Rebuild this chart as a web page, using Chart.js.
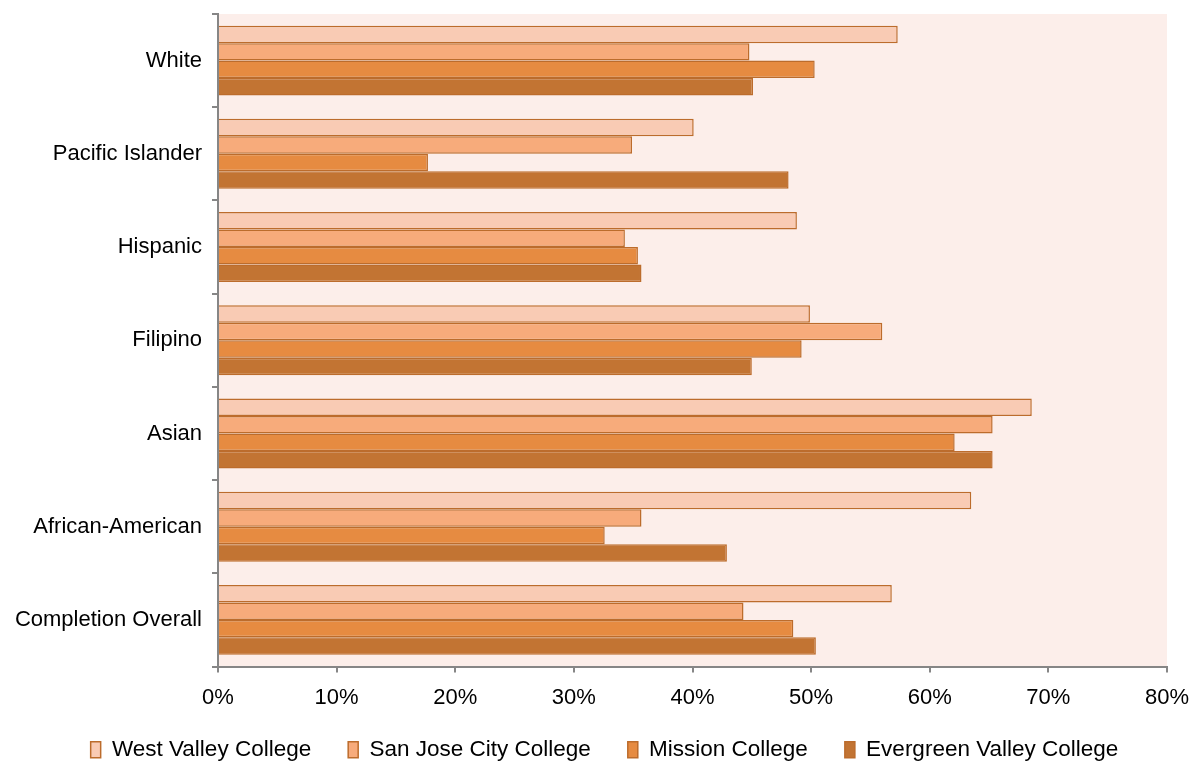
<!DOCTYPE html>
<html>
<head>
<meta charset="utf-8">
<script src="https://cdn.jsdelivr.net/npm/chart.js@4"></script>
<style>
  html, body { margin: 0; padding: 0; background: #ffffff; }
  #wrap { width: 1194px; height: 761px; }
</style>
</head>
<body>
<div id="wrap"><canvas id="chart"></canvas></div>
<script>
const groups = ['White', 'Pacific Islander', 'Hispanic', 'Filipino', 'Asian', 'African-American', 'Completion Overall']
const colleges = ['West Valley College', 'San Jose City College', 'Mission College', 'Evergreen Valley College']

// completion rates in percent, one list per college, same order as groups
const westValley = [57.3, 40.1, 48.8, 49.9, 68.6, 63.5, 56.8]
const sanJose = [44.8, 34.9, 34.3, 56.0, 65.3, 35.7, 44.3]
const mission = [50.3, 17.7, 35.4, 49.2, 62.1, 32.6, 48.5]
const evergreen = [45.1, 48.1, 35.7, 45.0, 65.3, 42.9, 50.4]

const xTicks = [0, 10, 20, 30, 40, 50, 60, 70, 80]

const fills = ['#F9CBB4', '#F7AB7B', '#E68B41', '#C27433']
const edge = '#BC6C2C'
const axisGrey = '#868686'
const font = {family: 'Liberation Sans', size: 22}

// pale fill behind the bars only
const plotBackground = {
    id: 'plotBackground',
    beforeDraw(chart) {
        const {ctx, chartArea} = chart
        ctx.save()
        ctx.fillStyle = '#FCEEEA'
        ctx.fillRect(chartArea.left, chartArea.top, chartArea.right - chartArea.left, chartArea.bottom - chartArea.top)
        ctx.restore()
    }
}

// the x axis box is squeezed by the legend; let its labels draw below it,
// and centre the legend a little right of the canvas middle
const tweakBoxes = {
    id: 'tweakBoxes',
    afterLayout(chart) {
        chart.scales.x.bottom = chart.height
        chart.legend.left += 21
        chart.legend.right += 21
    }
}

const series = [westValley, sanJose, mission, evergreen]

new Chart(document.getElementById('chart'), {
    type: 'bar',
    data: {
        labels: groups,
        datasets: series.map((values, i) => ({
            label: colleges[i],
            data: values,
            backgroundColor: fills[i],
            borderColor: edge,
            borderWidth: 1.5,
            categoryPercentage: 0.75,
            barPercentage: 1.0
        }))
    },
    options: {
        indexAxis: 'y',
        responsive: true,
        maintainAspectRatio: false,
        animation: false,
        layout: {padding: {top: 14, right: 27, left: 0, bottom: -10}},
        plugins: {
            tooltip: {enabled: false},
            legend: {
                position: 'bottom',
                labels: {
                    color: '#000',
                    font: {family: 'Liberation Sans', size: 22.5},
                    boxWidth: 10,
                    boxHeight: 16,
                    padding: 37
                }
            }
        },
        scales: {
            x: {
                min: 0,
                max: 80,
                afterBuildTicks(scale) {
                    scale.ticks = xTicks.map(v => ({value: v}))
                },
                afterFit(scale) {
                    scale.height = 35
                    scale.paddingLeft = 0
                    scale.paddingRight = 0
                },
                border: {color: axisGrey, width: 2},
                grid: {drawOnChartArea: false, drawTicks: true, tickLength: 6, color: axisGrey, lineWidth: 2},
                ticks: {
                    color: '#000',
                    font: font,
                    padding: 12,
                    maxRotation: 0,
                    callback: v => v + '%'
                }
            },
            y: {
                afterFit(scale) {
                    scale.width = 218
                    scale.paddingTop = 0
                    scale.paddingBottom = 0
                },
                border: {color: axisGrey, width: 2},
                grid: {drawOnChartArea: false, drawTicks: true, tickLength: 6, color: axisGrey, lineWidth: 2},
                ticks: {
                    color: '#000',
                    font: font,
                    padding: 10
                }
            }
        }
    },
    plugins: [plotBackground, tweakBoxes]
})
</script>
</body>
</html>
